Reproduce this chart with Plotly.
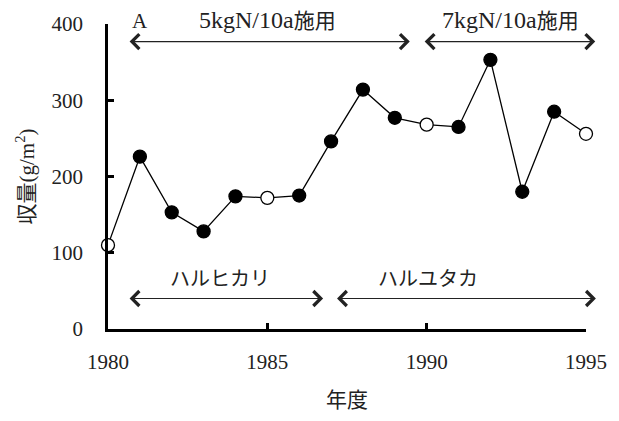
import plotly.graph_objects as go

years = list(range(1980, 1996))
yields = [110, 226, 153, 128, 174, 172, 175, 246, 314, 277, 268, 265, 353, 180, 285, 256]
open_years = [1980, 1985, 1990, 1995]

y_ticks = [0, 100, 200, 300, 400]
x_ticks = [1980, 1985, 1990, 1995]

# period arrows: (label, start, end, arrow_y, label_x, label_y)
periods = [
    ("5kgN/10a<span style='font-size:21px'>施用</span>", 1980.63, 1989.47, 377, 1985.0, 405),
    ("7kgN/10a<span style='font-size:21px'>施用</span>", 1989.89, 1995.29, 377, 1992.62, 405),
    ("ハルヒカリ", 1980.63, 1986.75, 40, 1983.53, 65),
    ("ハルユタカ", 1987.14, 1995.31, 40, 1990.05, 65),
]
Y_MAX = 400

SERIF = "Liberation Serif, Noto Sans CJK JP"

marker_fill = ["white" if y in open_years else "black" for y in years]

fig = go.Figure()
fig.add_trace(go.Scatter(
    x=years, y=yields, mode="lines+markers",
    line=dict(color="black", width=1.3),
    marker=dict(size=13, color=marker_fill, line=dict(color="black", width=1.3)),
    cliponaxis=False, showlegend=False, hoverinfo="skip",
))

annotations = []
for label, x0, x1, ay, lx, ly in periods:
    annotations.append(dict(
        x=x1, y=ay, ax=x0, ay=ay, xref="x", yref="y", axref="x", ayref="y",
        showarrow=True, arrowside="end+start", arrowhead=4, startarrowhead=4,
        arrowsize=2.4, startarrowsize=2.4, arrowwidth=1.2, arrowcolor="#222",
        text="",
    ))
    annotations.append(dict(
        x=lx, y=ly / Y_MAX, xref="x", yref="y domain", text=label, showarrow=False,
        font=dict(family=SERIF, size=24 if "kgN" in label else 20, color="#222"),
        xanchor="center", yanchor="middle",
    ))
annotations.append(dict(
    x=1980.99, y=404 / Y_MAX, xref="x", yref="y domain", text="A", showarrow=False,
    font=dict(family=SERIF, size=21, color="#222"), xanchor="center", yanchor="middle",
))

fig.update_layout(
    width=619, height=421,
    margin=dict(l=108, r=25, t=24, b=83),
    paper_bgcolor="white", plot_bgcolor="white",
    font=dict(family=SERIF, color="#222"),
    annotations=annotations,
    xaxis=dict(
        range=[1980, 1995], tickvals=x_ticks, ticktext=[str(v) for v in x_ticks],
        showline=True, linecolor="black", linewidth=2.5,
        ticks="inside", ticklen=6, tickwidth=2.5, tickcolor="black",
        showgrid=False, zeroline=False, ticklabeloverflow="allow",
        tickfont=dict(family=SERIF, size=21, color="#222"),
        ticklabelstandoff=12,
        title=dict(text="年度", font=dict(family=SERIF, size=21, color="#222"), standoff=20),
    ),
    yaxis=dict(
        range=[0, 400], tickvals=y_ticks, ticktext=[str(v) for v in y_ticks],
        showline=True, linecolor="black", linewidth=2.5,
        ticks="inside", ticklen=6, tickwidth=2.5, tickcolor="black",
        showgrid=False, zeroline=False, ticklabeloverflow="allow",
        tickfont=dict(family=SERIF, size=21, color="#222"),
        ticklabelstandoff=18,
        title=dict(text="収量(g/m<sup>2</sup>)", font=dict(family=SERIF, size=21, color="#222"), standoff=12),
    ),
)

fig.write_html(
    "out.html",
    config={"displayModeBar": False},
    post_script="document.body.style.margin='0';document.body.style.overflow='hidden';",
)
